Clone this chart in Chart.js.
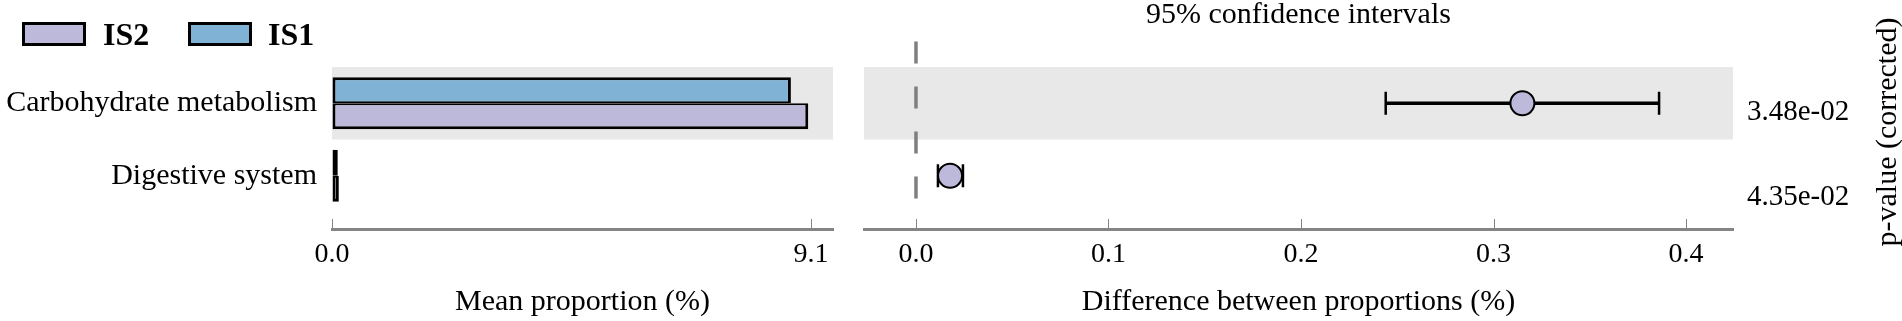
<!DOCTYPE html>
<html>
<head>
<meta charset="utf-8">
<script src="https://cdn.jsdelivr.net/npm/chart.js@4/dist/chart.umd.min.js"></script>
<style>
html,body{margin:0;padding:0;background:#fff;}
#wrap{position:relative;width:1902px;height:321px;overflow:hidden;font-family:"Liberation Serif","Times New Roman",serif;}
#c1{position:absolute;left:0;top:0;}
#c2{position:absolute;left:850px;top:0;}
.legbox{position:absolute;top:22px;width:64px;height:24px;box-sizing:border-box;border:3px solid #000;}
.legtxt{position:absolute;top:18px;font-size:32px;line-height:32px;font-weight:bold;color:#000;white-space:nowrap;}
</style>
</head>
<body>
<div id="wrap">
  <canvas id="c1" width="850" height="321"></canvas>
  <canvas id="c2" width="1052" height="321"></canvas>
  <div class="legbox" style="left:22px;background:#bdb9db;"></div>
  <div class="legtxt" style="left:103px;">IS2</div>
  <div class="legbox" style="left:188px;background:#7fb2d4;"></div>
  <div class="legtxt" style="left:268px;">IS1</div>
</div>
<script>
// ---- data ----
const categories = ["Carbohydrate metabolism", "Digestive system"];
const is1Mean = [8.72, 0.11];
const is2Mean = [9.05, 0.13];
const diffMean = [0.315, 0.0177];
const ciLower = [0.244, 0.0114];
const ciUpper = [0.386, 0.0244];
const pValues = ["3.48e-02", "4.35e-02"];
const meanTicks = [0, 9.1];
const diffTicks = [0, 0.1, 0.2, 0.3, 0.4];

// ---- style / layout ----
const SERIF = '"Liberation Serif","Times New Roman",serif';
const BLUE = '#7fb2d4', PURPLE = '#bdb9db', BAND = '#e8e8e8', AXIS = '#858585';
const ROW_MIN = -0.5, ROW_MAX = 1.734;
const pLabelShift = [0.12, 0.3];
Chart.defaults.color = '#000';
Chart.defaults.font.family = SERIF;

const bandPlugin = {
  id: 'band',
  beforeDatasetsDraw(chart) {
    const {ctx, chartArea} = chart;
    const y = chart.scales.y;
    const t = y.getPixelForValue(-0.5), b = y.getPixelForValue(0.5);
    ctx.save();
    ctx.fillStyle = BAND;
    ctx.fillRect(chartArea.left, t, chartArea.right - chartArea.left, b - t);
    ctx.restore();
  }
};
const tickPlugin = {
  id: 'tickmarks',
  afterDraw(chart) {
    const {ctx, chartArea} = chart;
    const x = chart.scales.x;
    ctx.save();
    ctx.strokeStyle = AXIS;
    ctx.lineWidth = 1;
    x.ticks.forEach(t => {
      const px = Math.round(x.getPixelForValue(t.value)) + 0.5;
      ctx.beginPath();
      ctx.moveTo(px, chartArea.bottom);
      ctx.lineTo(px, chartArea.bottom - 10);
      ctx.stroke();
    });
    ctx.restore();
  }
};
const ciPlugin = {
  id: 'ci',
  beforeDatasetsDraw(chart) {
    const {ctx} = chart;
    const x = chart.scales.x, y = chart.scales.y;
    ctx.save();
    // dashed zero line
    const x0 = x.getPixelForValue(0);
    ctx.strokeStyle = '#7f7f7f';
    ctx.lineWidth = 3.5;
    ctx.setLineDash([22, 23]);
    ctx.beginPath();
    ctx.moveTo(x0, y.getPixelForValue(-0.85));
    ctx.lineTo(x0, y.getPixelForValue(1.35));
    ctx.stroke();
    ctx.setLineDash([]);
    // error bars
    ctx.strokeStyle = '#000';
    categories.forEach((c, i) => {
      const py = y.getPixelForValue(i);
      const xl = x.getPixelForValue(ciLower[i]), xh = x.getPixelForValue(ciUpper[i]);
      ctx.lineWidth = 3.5;
      ctx.beginPath(); ctx.moveTo(xl, py); ctx.lineTo(xh, py); ctx.stroke();
      ctx.lineWidth = 2.5;
      [xl, xh].forEach(px => {
        ctx.beginPath(); ctx.moveTo(px, py - 11.5); ctx.lineTo(px, py + 11.5); ctx.stroke();
      });
    });
    ctx.restore();
  }
};
const pTitlePlugin = {
  id: 'ptitle',
  afterDraw(chart) {
    const {ctx} = chart;
    ctx.save();
    ctx.translate(chart.width - 14, 132);
    ctx.rotate(-Math.PI / 2);
    ctx.font = '30px ' + SERIF;
    ctx.fillStyle = '#000';
    ctx.textAlign = 'center';
    ctx.textBaseline = 'middle';
    ctx.fillText('p-value (corrected)', 0, 0);
    ctx.restore();
  }
};

// ---- left panel: mean proportions ----
new Chart(document.getElementById('c1'), {
  type: 'bar',
  data: {
    datasets: [
      {label: 'IS1', data: categories.map((c, i) => ({x: is1Mean[i], y: i})),
       backgroundColor: BLUE, borderColor: '#000', borderSkipped: false,
       borderWidth: {top: 3, right: 3, bottom: 2, left: 3},
       categoryPercentage: 0.717, barPercentage: 1},
      {label: 'IS2', data: categories.map((c, i) => ({x: is2Mean[i], y: i})),
       backgroundColor: PURPLE, borderColor: '#000', borderSkipped: false,
       borderWidth: {top: 2, right: 3, bottom: 3, left: 3},
       categoryPercentage: 0.717, barPercentage: 1}
    ]
  },
  options: {
    indexAxis: 'y', responsive: false, animation: false,
    layout: {padding: {top: 67, right: 17, left: 0, bottom: 0}},
    plugins: {legend: {display: false}, tooltip: {enabled: false}},
    scales: {
      x: {type: 'linear', min: 0, max: 9.52,
          afterBuildTicks: s => { s.ticks = meanTicks.map(v => ({value: v})); },
          afterFit: s => { s.height = 92; },
          grid: {display: true, drawOnChartArea: false, drawTicks: false},
          border: {display: true, color: AXIS, width: 3},
          ticks: {padding: 9, font: {size: 28}, color: '#000', maxRotation: 0, autoSkip: false,
                  callback: v => Number(v).toFixed(1)},
          title: {display: true, text: 'Mean proportion (%)', color: '#000',
                  font: {size: 30, lineHeight: 1.2}, padding: {top: 0, bottom: 1}}},
      y: {type: 'linear', reverse: true, min: ROW_MIN, max: ROW_MAX, offset: false,
          afterBuildTicks: s => { s.ticks = categories.map((c, i) => ({value: i})); },
          afterFit: s => { s.width = 332; },
          grid: {display: false, drawTicks: false}, border: {display: false},
          ticks: {padding: 15, font: {size: 30}, color: '#000', autoSkip: false,
                  callback: v => categories[Math.round(v)]}}
    }
  },
  plugins: [bandPlugin, tickPlugin]
});

// ---- right panel: differences with 95% CI ----
new Chart(document.getElementById('c2'), {
  type: 'scatter',
  data: {
    datasets: [{
      label: 'difference',
      data: categories.map((c, i) => ({x: diffMean[i], y: i})),
      pointRadius: 12, pointHoverRadius: 12,
      backgroundColor: PURPLE, borderColor: '#000', borderWidth: 2
    }]
  },
  options: {
    responsive: false, animation: false,
    layout: {padding: {top: 0, left: 14, right: 0, bottom: 0}},
    plugins: {legend: {display: false}, tooltip: {enabled: false}},
    scales: {
      x: {type: 'linear', position: 'bottom', min: -0.027, max: 0.4244,
          afterBuildTicks: s => { s.ticks = diffTicks.map(v => ({value: v})); },
          afterFit: s => { s.height = 92; },
          grid: {display: true, drawOnChartArea: false, drawTicks: false},
          border: {display: true, color: AXIS, width: 3},
          ticks: {padding: 9, font: {size: 28}, color: '#000', maxRotation: 0, autoSkip: false,
                  callback: v => Number(v).toFixed(1)},
          title: {display: true, text: 'Difference between proportions (%)', color: '#000',
                  font: {size: 30, lineHeight: 1.2}, padding: {top: 0, bottom: 1}}},
      xt: {type: 'linear', position: 'top', axis: 'x', min: -0.027, max: 0.4244,
           afterFit: s => { s.height = 67; },
           grid: {display: false, drawTicks: false}, border: {display: false},
           ticks: {display: false},
           title: {display: true, text: '95% confidence intervals', color: '#000',
                   font: {size: 30, lineHeight: 1}, padding: {top: 0, bottom: 0}}},
      y: {type: 'linear', reverse: true, min: ROW_MIN, max: ROW_MAX, display: false, offset: false},
      p: {type: 'linear', position: 'right', axis: 'y', reverse: true, min: ROW_MIN, max: ROW_MAX,
          afterBuildTicks: s => { s.ticks = pValues.map((p, i) => ({value: i + pLabelShift[i]})); },
          afterFit: s => { s.width = 169; },
          grid: {display: false, drawTicks: false}, border: {display: false},
          ticks: {padding: 14, font: {size: 29}, color: '#000', autoSkip: false,
                  callback: (v, i) => pValues[i]}}
    }
  },
  plugins: [bandPlugin, ciPlugin, tickPlugin, pTitlePlugin]
});
</script>
</body>
</html>
